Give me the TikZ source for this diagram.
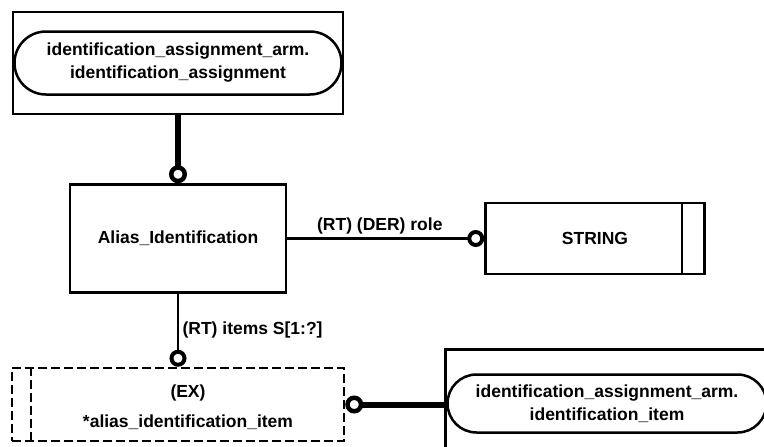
\documentclass[tikz,border=0pt]{standalone}
\usepackage{fontspec}
\setmainfont{Liberation Sans}
\usetikzlibrary{positioning,shapes.misc,arrows.meta}

\begin{document}
\begin{tikzpicture}[
                x=1pt, y=-1pt,
                font=\fontsize{17.5}{23}\selectfont\bfseries,
                box/.style={rectangle, draw, line width=2.5pt, inner sep=0pt},
                pill/.style={rounded rectangle, draw, line width=2.5pt, align=center, inner sep=0pt},
                rel/.style={line width=2.5pt, -{Circle[open, length=17pt, line width'=4pt]}},
                thickrel/.style={line width=6pt, -{Circle[open, length=18pt, line width'=4.5pt]}}
            ]
                \useasboundingbox (0,0) rectangle (764,447);
                \clip (0,0) rectangle (764,447);
                \node[box, minimum width=330pt, minimum height=102pt] (assign) at (178,63) {};
                \node[pill, minimum width=327pt, minimum height=63pt] (assigntxt) at (assign) {identification\_assignment\_arm.\\identification\_assignment};
                \node[box, minimum width=216pt, minimum height=108pt, below=68pt of assign] (alias) {Alias\_Identification};
                \node[box, minimum width=219pt, minimum height=71pt, right=197pt of alias] (str) {STRING};
                \draw[line width=2.5pt] ([xshift=-24pt]str.north east) -- ([xshift=-24pt]str.south east);
                \node[box, dash pattern=on 9pt off 4pt, minimum width=332pt, minimum height=73pt, below=73pt of alias] (item) {};
                \draw[line width=2.5pt, dash pattern=on 9pt off 4pt] ([xshift=20pt]item.north west) -- ([xshift=20pt]item.south west);
                \node[align=center] (itemtxt) at ([xshift=10pt,yshift=-2.5pt]item.center) {(EX)\\[7pt]*alias\_identification\_item};
                \node[box, minimum width=340pt, minimum height=110pt, right=99pt of item] (itemref) {};
                \node[pill, anchor=west, minimum width=319pt, minimum height=58pt] (itemreftxt) at ([xshift=2pt,yshift=1pt]itemref.west) {identification\_assignment\_arm.\\identification\_item};

                \draw[thickrel] (assign) -- (alias);
                \draw[rel] (alias) -- node[above, pos=0.47] {(RT) (DER) role} (str);
                \draw[rel] (alias) -- node[right] {(RT) items S[1:?]} (item);
                \draw[thickrel] (itemref) -- (item);
            \end{tikzpicture}
\end{document}
